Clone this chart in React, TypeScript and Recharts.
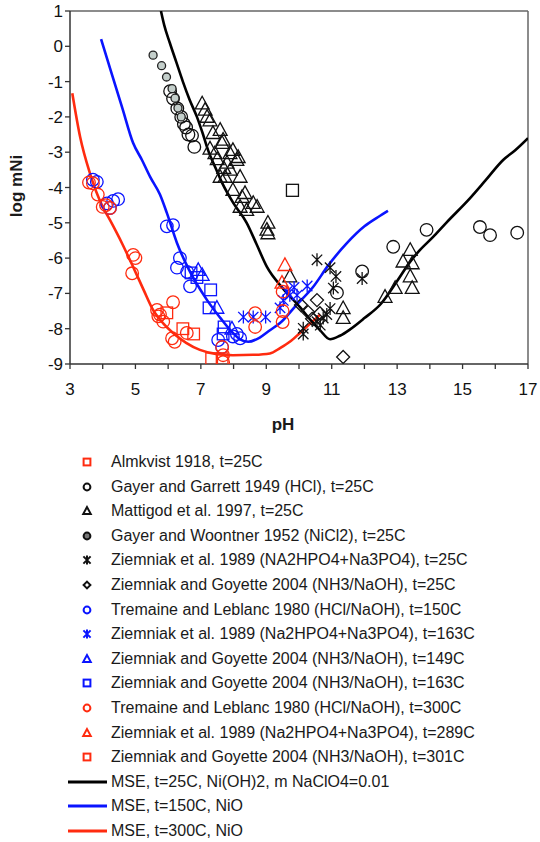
import { ComposedChart, Line, ReferenceLine, Scatter, XAxis, YAxis } from "recharts";

// model curves: [pH, log mNi]
const mse25 = [
  [5.78, 1.0], [5.88, 0.6], [6.05, 0.1], [6.25, -0.45], [6.45, -1.0], [6.65, -1.5], [6.88, -2.0],
  [7.05, -2.45], [7.22, -2.94], [7.45, -3.45], [7.65, -3.87], [8.0, -4.45], [8.4, -5.0], [8.7, -5.6],
  [9.02, -6.25], [9.5, -6.85], [10.03, -7.39], [10.35, -7.75], [10.64, -8.04], [10.95, -8.3],
  [11.25, -8.2], [11.56, -8.02], [12.0, -7.7], [12.5, -7.3], [13.0, -6.65], [13.4, -6.1],
  [13.7, -5.77], [14.1, -5.4], [14.5, -5.0], [15.23, -4.3], [15.7, -3.8], [16.24, -3.22],
  [16.6, -2.95], [17.0, -2.6],
];
const mse150 = [
  [3.95, 0.2], [4.3, -0.85], [4.6, -1.75], [4.93, -2.74], [5.2, -3.22], [5.45, -3.7], [5.75, -4.2],
  [5.96, -4.72], [6.27, -5.57], [6.62, -6.3], [7.19, -7.19], [7.6, -7.7], [7.9, -8.04], [8.2, -8.3],
  [8.45, -8.37], [8.8, -8.25], [9.1, -8.05], [9.42, -7.84], [9.9, -7.35], [10.43, -6.82],
  [10.9, -6.2], [11.47, -5.57], [12.0, -5.1], [12.48, -4.8], [12.72, -4.66],
];
const mse300 = [
  [3.07, -1.33], [3.31, -2.57], [3.61, -3.6], [4.0, -4.55], [4.22, -4.92], [4.6, -5.6], [4.93, -6.25],
  [5.25, -6.9], [5.54, -7.47], [5.85, -7.85], [6.15, -8.12], [6.55, -8.4], [6.97, -8.6], [7.5, -8.72],
  [7.98, -8.75], [8.6, -8.74], [9.11, -8.7], [9.42, -8.55], [9.75, -8.35], [10.03, -8.12],
  [10.35, -7.85], [10.65, -7.6],
];

// measured points
const almkvist = [[9.8, -4.08]];
const gayerGarrett = [
  [6.06, -1.27], [6.15, -1.48], [6.28, -1.76], [6.4, -2.0], [6.48, -2.2], [6.55, -2.3], [6.62, -2.5],
  [6.73, -2.53], [6.8, -2.85], [11.93, -6.38], [11.16, -6.98], [12.88, -5.68], [13.9, -5.2],
  [15.53, -5.12], [15.84, -5.35], [16.67, -5.28],
];
const mattigod = [
  [7.04, -1.62], [7.13, -1.8], [7.19, -2.0], [7.28, -2.1], [7.37, -2.46], [7.28, -2.9], [7.43, -3.03],
  [7.59, -2.37], [7.65, -2.74], [7.68, -2.65], [7.5, -3.2], [7.8, -3.3], [7.7, -3.45], [7.9, -3.5],
  [7.89, -3.03], [7.98, -2.94], [8.1, -3.22], [8.14, -3.14], [7.59, -3.7], [7.74, -3.7], [8.2, -3.7],
  [7.98, -4.07], [8.26, -4.27], [8.35, -4.16], [8.6, -4.44], [8.4, -4.64], [8.2, -4.55], [8.72, -4.55],
  [9.02, -5.2], [9.05, -5.0], [9.05, -5.3], [9.72, -6.52], [11.35, -7.42], [11.35, -7.7],
  [12.63, -7.1], [12.94, -6.85], [13.18, -6.1], [13.4, -5.77], [13.46, -6.15], [13.4, -6.52],
  [13.46, -6.85],
];
const gayerWoontner = [
  [5.54, -0.25], [5.8, -0.55], [5.95, -0.87], [6.12, -1.2], [6.21, -1.47], [6.3, -1.75], [6.4, -2.0],
];
const ziemniak25 = [
  [10.55, -6.05], [10.95, -6.27], [11.13, -6.52], [11.05, -6.85], [11.93, -6.58], [10.95, -7.43],
  [10.74, -7.7], [10.55, -7.8], [10.13, -7.99], [10.13, -8.15], [10.85, -7.6], [10.65, -7.9],
];
const goyette25 = [[10.55, -7.19], [10.06, -7.33], [10.28, -7.53], [10.64, -7.56], [10.4, -7.72], [11.35, -8.8]];
const tremaine150 = [
  [3.7, -3.78], [3.82, -3.84], [4.13, -4.45], [4.22, -4.58], [4.32, -4.38], [4.47, -4.33],
  [5.96, -5.1], [6.15, -5.07], [6.36, -6.0], [6.27, -6.27], [6.58, -6.39], [6.67, -6.8],
  [7.53, -8.32], [7.65, -8.52], [7.98, -8.22], [8.2, -8.27], [8.1, -8.15],
];
const ziemniak163 = [
  [8.3, -7.67], [8.6, -7.67], [8.98, -7.67], [9.42, -7.41], [9.52, -7.2], [9.63, -6.95], [9.72, -7.05],
  [9.85, -6.83], [9.94, -7.05], [10.25, -6.79],
];
const goyette149 = [[6.92, -6.34], [7.04, -6.48], [7.49, -7.41], [7.95, -8.0]];
const goyette163 = [[6.7, -6.42], [6.88, -6.55], [7.3, -6.9], [7.25, -7.41], [7.71, -7.95], [7.68, -8.15]];
const tremaine300 = [
  [3.58, -3.86], [3.7, -3.88], [3.85, -4.2], [4.0, -4.55], [4.1, -4.5], [4.22, -4.58], [4.93, -5.91],
  [5.0, -6.0], [4.9, -6.43], [5.66, -7.47], [5.75, -7.6], [5.85, -7.8], [5.7, -7.65], [6.15, -7.25],
  [6.12, -8.27], [6.2, -8.37], [6.57, -8.12], [7.65, -8.52], [7.68, -8.75], [7.68, -8.95],
  [8.66, -7.56], [8.66, -7.95], [9.5, -6.95], [9.5, -7.5], [9.5, -7.81],
];
const ziemniak289 = [[9.57, -6.2], [9.48, -6.7]];
const goyette301 = [[5.96, -7.55], [6.45, -8.0], [6.78, -8.15], [7.33, -8.85], [7.65, -8.85]];

const xTicks = [3, 4, 5, 6, 7, 8, 9, 10, 11, 12, 13, 14, 15, 16, 17];
const yTicks = [-9, -8, -7, -6, -5, -4, -3, -2, -1, 0, 1];

const RED = "#ff2b0f";
const BLUE = "#0a14ff";
const GRAY_FILL = "#c4cfcb";

type Kind = "circle" | "square" | "triangle" | "diamond" | "star" | "line";

const pts = (a: number[][]) => a.map(([x, y]) => ({ x, y }));

const scatterSeries: { name: string; data: number[][]; kind: Kind; color: string; fill?: string; r: number }[] = [
  { name: "almkvist", data: almkvist, kind: "square", color: "#111", r: 6 },
  { name: "gayerGarrett", data: gayerGarrett, kind: "circle", color: "#111", r: 6.3 },
  { name: "mattigod", data: mattigod, kind: "triangle", color: "#111", r: 6.3 },
  { name: "gayerWoontner", data: gayerWoontner, kind: "circle", color: "#222", fill: GRAY_FILL, r: 4 },
  { name: "ziemniak25", data: ziemniak25, kind: "star", color: "#111", r: 6.5 },
  { name: "goyette25", data: goyette25, kind: "diamond", color: "#111", r: 6.5 },
  { name: "tremaine150", data: tremaine150, kind: "circle", color: BLUE, r: 6.3 },
  { name: "ziemniak163", data: ziemniak163, kind: "star", color: BLUE, r: 6.5 },
  { name: "goyette149", data: goyette149, kind: "triangle", color: BLUE, r: 6.3 },
  { name: "goyette163", data: goyette163, kind: "square", color: BLUE, r: 5.8 },
  { name: "tremaine300", data: tremaine300, kind: "circle", color: RED, r: 6.3 },
  { name: "ziemniak289", data: ziemniak289, kind: "triangle", color: RED, r: 6.3 },
  { name: "goyette301", data: goyette301, kind: "square", color: RED, r: 5.8 },
];

const legendRows: { label: string; kind: Kind; color: string; fill?: string }[] = [
  { label: "Almkvist 1918, t=25C", kind: "square", color: RED },
  { label: "Gayer and Garrett 1949 (HCl), t=25C", kind: "circle", color: "#111" },
  { label: "Mattigod et al. 1997, t=25C", kind: "triangle", color: "#111" },
  { label: "Gayer and Woontner 1952 (NiCl2), t=25C", kind: "circle", color: "#111", fill: "#777" },
  { label: "Ziemniak et al. 1989 (NA2HPO4+Na3PO4), t=25C", kind: "star", color: "#111" },
  { label: "Ziemniak and Goyette 2004 (NH3/NaOH), t=25C", kind: "diamond", color: "#111" },
  { label: "Tremaine and Leblanc 1980 (HCl/NaOH), t=150C", kind: "circle", color: BLUE },
  { label: "Ziemniak et al. 1989 (Na2HPO4+Na3PO4), t=163C", kind: "star", color: BLUE },
  { label: "Ziemniak and Goyette 2004 (NH3/NaOH), t=149C", kind: "triangle", color: BLUE },
  { label: "Ziemniak and Goyette 2004 (NH3/NaOH), t=163C", kind: "square", color: BLUE },
  { label: "Tremaine and Leblanc 1980 (HCl/NaOH), t=300C", kind: "circle", color: RED },
  { label: "Ziemniak et al. 1989 (Na2HPO4+Na3PO4), t=289C", kind: "triangle", color: RED },
  { label: "Ziemniak and Goyette 2004 (NH3/NaOH), t=301C", kind: "square", color: RED },
  { label: "MSE, t=25C, Ni(OH)2, m NaClO4=0.01", kind: "line", color: "#000" },
  { label: "MSE, t=150C, NiO", kind: "line", color: BLUE },
  { label: "MSE, t=300C, NiO", kind: "line", color: RED },
];

function Mark({ kind, cx, cy, r, color, fill = "none", sw = 1.3 }: {
  kind: Kind; cx: number; cy: number; r: number; color: string; fill?: string; sw?: number;
}) {
  if (cx == null || cy == null) return null;
  switch (kind) {
    case "circle":
      return <circle cx={cx} cy={cy} r={r} fill={fill} stroke={color} strokeWidth={sw} />;
    case "square":
      return <rect x={cx - r} y={cy - r} width={2 * r} height={2 * r} fill="none" stroke={color} strokeWidth={sw} />;
    case "triangle":
      return (
        <polygon
          points={`${cx},${cy - r * 1.15} ${cx - r * 1.1},${cy + r * 0.85} ${cx + r * 1.1},${cy + r * 0.85}`}
          fill="none" stroke={color} strokeWidth={sw} strokeLinejoin="miter"
        />
      );
    case "diamond":
      return <polygon points={`${cx},${cy - r} ${cx + r},${cy} ${cx},${cy + r} ${cx - r},${cy}`} fill="none" stroke={color} strokeWidth={sw} />;
    case "star": {
      const d = r * 0.8;
      return (
        <path
          d={`M${cx - d},${cy - d}L${cx + d},${cy + d}M${cx + d},${cy - d}L${cx - d},${cy + d}M${cx},${cy - r}L${cx},${cy + r}`}
          stroke={color} strokeWidth={sw} fill="none"
        />
      );
    }
    default:
      return null;
  }
}

function LegendIcon({ kind, color, fill }: { kind: Kind; color: string; fill?: string }) {
  if (kind === "line") {
    return (
      <svg width={44} height={10} style={{ position: "absolute", left: 66, top: -5 }}>
        <line x1={2} y1={5} x2={41} y2={5} stroke={color} strokeWidth={3} />
      </svg>
    );
  }
  return (
    <svg width={14} height={14} style={{ position: "absolute", left: 80, top: -7 }}>
      <Mark kind={kind} cx={7} cy={7} r={kind === "star" ? 4.5 : 3.4} color={color} fill={fill} sw={2} />
    </svg>
  );
}

export default function App() {
  return (
    <div
      style={{
        position: "absolute", left: 0, top: 0, width: 540, height: 842, background: "#fff",
        fontFamily: "'Liberation Sans', Arial, Helvetica, sans-serif", color: "#1a1a1a",
      }}
    >
      <ComposedChart width={540} height={434} margin={{ top: 11, right: 12, bottom: 0, left: 0 }}>
        <XAxis
          dataKey="x" type="number" domain={[3, 17]} ticks={xTicks} interval={0} allowDataOverflow
          tickFormatter={(v: number) => (v % 2 === 1 ? String(v) : "")}
          tick={{ fontSize: 17, fill: "#111" }} tickSize={5} tickMargin={14} height={70}
          axisLine={{ stroke: "#333", strokeWidth: 1.5 }} tickLine={{ stroke: "#333", strokeWidth: 1.3 }}
        />
        <YAxis
          type="number" domain={[-9, 1]} ticks={yTicks} interval={0} allowDataOverflow width={70}
          tick={{ fontSize: 17, fill: "#111" }} tickSize={5} tickMargin={2}
          axisLine={{ stroke: "#333", strokeWidth: 1.5 }} tickLine={{ stroke: "#333", strokeWidth: 1.3 }}
        />
        <ReferenceLine y={1} stroke="#666" strokeWidth={1.5} />
        <ReferenceLine x={17} stroke="#666" strokeWidth={1.5} />
        {scatterSeries.map((s) => (
          <Scatter
            key={s.name}
            name={s.name}
            data={pts(s.data)}
            dataKey="y"
            isAnimationActive={false}
            shape={(p: any) => <Mark kind={s.kind} cx={p.cx} cy={p.cy} r={s.r} color={s.color} fill={s.fill} />}
          />
        ))}
        <Line data={pts(mse300)} dataKey="y" type="monotone" stroke={RED} strokeWidth={2.6} dot={false} isAnimationActive={false} />
        <Line data={pts(mse150)} dataKey="y" type="monotone" stroke={BLUE} strokeWidth={2.6} dot={false} isAnimationActive={false} />
        <Line data={pts(mse25)} dataKey="y" type="monotone" stroke="#000" strokeWidth={2.6} dot={false} isAnimationActive={false} />
      </ComposedChart>

      <div
        style={{
          position: "absolute", left: 17, top: 186, transform: "translate(-50%, -50%) rotate(-90deg)",
          fontWeight: "bold", fontSize: 17, whiteSpace: "nowrap",
        }}
      >
        log mNi
      </div>
      <div
        style={{
          position: "absolute", left: 283, top: 425, transform: "translate(-50%, -50%)",
          fontWeight: "bold", fontSize: 17,
        }}
      >
        pH
      </div>

      {legendRows.map((row, i) => (
        <div key={row.label} style={{ position: "absolute", left: 0, top: 462 + i * 24.6, width: 540 }}>
          <LegendIcon kind={row.kind} color={row.color} fill={row.fill} />
          <span
            style={{
              position: "absolute", left: 111, top: 0, transform: "translateY(-50%)",
              fontSize: 16, whiteSpace: "nowrap", lineHeight: "18px",
            }}
          >
            {row.label}
          </span>
        </div>
      ))}
    </div>
  );
}
